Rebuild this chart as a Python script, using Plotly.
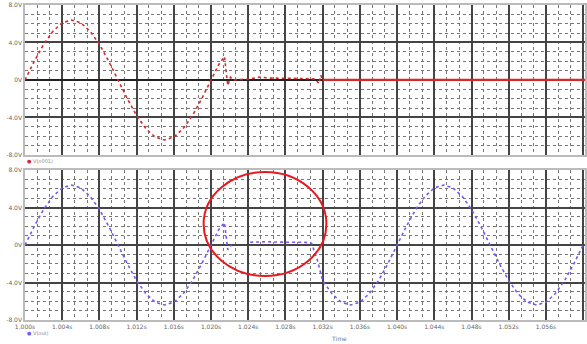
import plotly.graph_objects as go
from plotly.subplots import make_subplots

# ---- data (x in grid divisions) ----
t_in = [0, 0.25, 0.5, 0.75, 1.0, 1.25, 1.5, 1.75, 2.0, 2.25, 2.5, 2.75, 3.0, 3.25, 3.5,
        3.75, 4.0, 4.25, 4.5, 4.75, 5.0, 5.2, 5.36, 5.45, 5.52, 5.6, 6.0, 6.3, 6.6, 7.0,
        7.5, 7.8, 7.9, 7.95, 8.0]
v_in = [0, 2.0, 3.8, 5.2, 6.1, 6.4, 6.1, 5.2, 3.8, 2.0, 0, -2.0, -3.8, -5.2, -6.1,
        -6.4, -6.1, -5.2, -3.8, -2.0, 0, 1.6, 2.5, -0.6, 0.3, 0, 0.1, 0.3, 0.2, 0.2,
        0.15, 0.1, -0.4, 0.5, 0]
t_flat = [8.0, 15.05]
v_flat = [0, 0]

t_out = [0, 0.25, 0.5, 0.75, 1.0, 1.25, 1.5, 1.75, 2.0, 2.25, 2.5, 2.75, 3.0, 3.25, 3.5,
         3.75, 4.0, 4.25, 4.5, 4.75, 5.0, 5.2, 5.36, 5.45, 5.5, 5.55, None,
         6.05, 6.5, 7.0, 7.5, 7.7, 7.85, 8.0, 8.25, 8.5, 8.75, 9.0, 9.25, 9.5, 9.75,
         10.0, 10.25, 10.5, 10.75, 11.0, 11.25, 11.5, 11.75, 12.0, 12.25, 12.5, 12.75,
         13.0, 13.25, 13.5, 13.75, 14.0, 14.25, 14.5, 14.75, 15.0]
v_out = [0, 2.0, 3.8, 5.2, 6.1, 6.4, 6.1, 5.2, 3.8, 2.0, 0, -2.0, -3.8, -5.2, -6.1,
         -6.4, -6.1, -5.2, -3.8, -2.0, 0, 1.6, 2.4, -0.5, -0.2, 0.0, None,
         0.3, 0.35, 0.3, 0.3, 0.2, -1.5, -3.8, -5.2, -6.1, -6.4, -6.1, -5.2, -3.8, -2.0,
         0, 2.0, 3.8, 5.2, 6.1, 6.4, 6.1, 5.2, 3.8, 2.0, 0, -2.0,
         -3.8, -5.2, -6.1, -6.4, -6.1, -5.2, -3.8, -2.0, 0]

x_tickvals = list(range(0, 16))
x_ticktext = ["1.000s", "1.004s", "1.008s", "1.012s", "1.016s", "1.020s", "1.024s", "1.028s",
              "1.032s", "1.036s", "1.040s", "1.044s", "1.048s", "1.052s", "1.056s", "1.060s"]
y_tickvals = [-8, -4, 0, 4, 8]
y_ticktext = ["-8.0V", "-4.0V", "0V", "4.0V", "8.0V"]

RED = "#d42a2a"
PURPLE = "#7a55f5"

fig = make_subplots(rows=2, cols=1, shared_xaxes=True, vertical_spacing=0.048)

fig.add_trace(go.Scatter(x=t_in, y=v_in, mode="lines", line=dict(color=RED, width=1.6, dash="dot"),
                         showlegend=False), row=1, col=1)
fig.add_trace(go.Scatter(x=t_flat, y=v_flat, mode="lines", line=dict(color=RED, width=2.2),
                         showlegend=False), row=1, col=1)
fig.add_trace(go.Scatter(x=t_out, y=v_out, mode="lines", connectgaps=False,
                         line=dict(color=PURPLE, width=1.6, dash="dot"),
                         showlegend=False), row=2, col=1)

grid_common = dict(showgrid=True, gridcolor="#444", gridwidth=1.6,
                   showline=True, linecolor="#bbb", linewidth=1.5, mirror=True)

for r in (1, 2):
    fig.update_xaxes(range=[0, 15.05], tickvals=x_tickvals, ticktext=x_ticktext,
                     tickfont=dict(size=6, color="#666"), zeroline=False, row=r, col=1,
                     minor=dict(showgrid=True, gridcolor="#777", griddash="dot", gridwidth=1,
                                tickvals=[v + f for v in x_tickvals for f in (0.33, 0.67)]),
                     **grid_common)
    fig.update_yaxes(range=[-8, 8], tickvals=y_tickvals, ticktext=y_ticktext,
                     tickfont=dict(size=6, color="#666"), row=r, col=1,
                     minor=dict(showgrid=True, gridcolor="#777", griddash="dot", gridwidth=1,
                                tickvals=[v + f for v in y_tickvals for f in (1, 2, 3)]),
                     **grid_common)
fig.update_xaxes(showticklabels=False, row=1, col=1)
fig.update_yaxes(zeroline=True, zerolinecolor="#222", zerolinewidth=2, row=1, col=1)
fig.update_yaxes(zeroline=False, row=2, col=1)

# red ellipse highlighting the hold region
fig.add_shape(type="circle", xref="x2", yref="y2", x0=4.8, x1=8.1, y0=-3.3, y1=7.8,
              line=dict(color="#e8191e", width=2))

fig.add_annotation(xref="paper", yref="paper", x=0.0, y=0.505, xanchor="left", yanchor="middle",
                   text="<span style='color:%s'>●</span> V(n001)" % RED, showarrow=False,
                   font=dict(size=5, color="#888"))
fig.add_annotation(xref="paper", yref="paper", x=0.0, y=-0.04, xanchor="left", yanchor="middle",
                   text="<span style='color:%s'>●</span> V(out)" % PURPLE, showarrow=False,
                   font=dict(size=5, color="#888"))
fig.add_annotation(xref="paper", yref="paper", x=0.56, y=-0.058, xanchor="center", yanchor="middle",
                   text="Time", showarrow=False, font=dict(size=6, color="#777"))

fig.update_layout(width=587, height=344, margin=dict(l=25, r=0, t=5, b=24),
                  plot_bgcolor="white", paper_bgcolor="white",
                  font=dict(family="DejaVu Sans"))

fig.write_html("out.html", config={"displayModeBar": False},
               post_script="document.body.style.margin='0';document.body.style.overflow='hidden';")
